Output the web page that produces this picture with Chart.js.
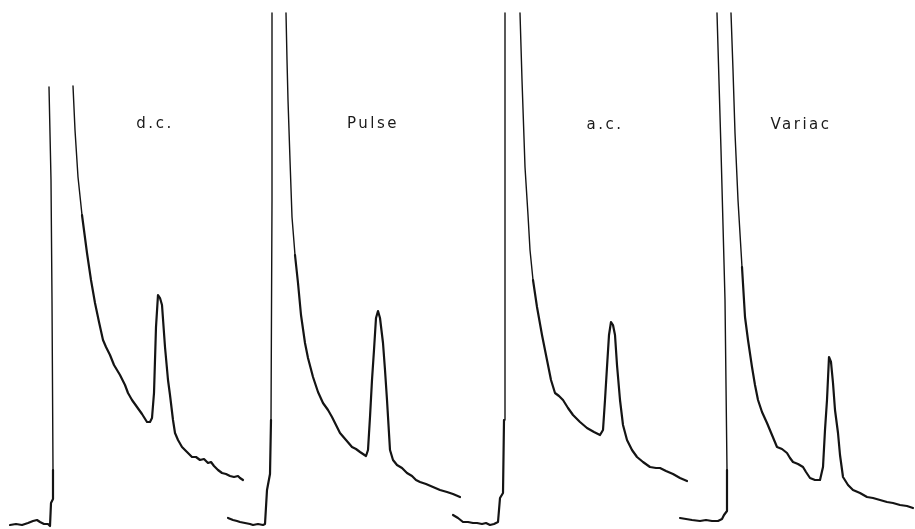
<!DOCTYPE html>
<html>
<head>
<meta charset="utf-8">
<script src="https://cdn.jsdelivr.net/npm/chart.js@4/dist/chart.umd.min.js"></script>
<style>
  html, body { margin: 0; padding: 0; background: #fff; }
  #wrap { width: 915px; height: 529px; position: relative; }
</style>
</head>
<body>
<div id="wrap"><canvas id="chart"></canvas></div>
<script>
// recorder traces, time in chart-paper units, signal = pen deflection
// null = pen off scale (peak cut at the top)
var dcTime = [10, 16, 22, 28, 33, 37, 40, 44, 48, 50, 51, 53, 53, 52, 51, 49, 61,
	73, 75, 78, 82, 87, 91, 95, 99, 103, 106, 110, 114, 120, 125, 128, 132, 137, 142, 147, 150,
	152, 154, 156, 158, 160, 162, 165, 168, 170, 173, 175, 178, 182, 187, 192, 196, 200, 204,
	208, 211, 214, 218, 222, 226, 230, 234, 238, 240, 243];
var dcSignal = [4, 5, 4, 6, 8, 9, 7, 5, 5, 3, 26, 30, 59, 229, 349, 442, null,
	443, 399, 352, 314, 276, 249, 226, 207, 189, 182, 174, 164, 154, 144, 136, 129, 122, 115, 107, 107,
	111, 136, 202, 234, 231, 224, 182, 149, 134, 109, 96, 89, 82, 77, 72, 72, 69, 70,
	66, 67, 63, 59, 56, 55, 53, 52, 53, 51, 49];

var pulseTime = [228, 233, 237, 240, 245, 250, 253, 258, 263, 265, 267, 270, 271, 272, 272, 279,
	286, 287, 288, 290, 292, 295, 298, 301, 305, 308, 313, 318, 323, 328, 332, 336, 340, 346, 352,
	356, 360, 366, 368, 370, 372, 374, 376, 378, 380, 383, 385, 387, 390, 393, 397, 402, 407, 412,
	416, 420, 426, 433, 440, 447, 453, 460];
var pulseSignal = [11, 9, 8, 7, 6, 5, 4, 5, 4, 5, 39, 55, 109, 329, 516, null,
	516, 469, 429, 369, 312, 274, 246, 214, 186, 171, 152, 137, 126, 119, 112, 104, 96, 89, 82,
	80, 77, 73, 79, 112, 149, 179, 211, 218, 211, 186, 159, 129, 79, 69, 64, 61, 56, 53,
	49, 47, 45, 42, 39, 37, 35, 32];

var acTime = [453, 458, 463, 468, 473, 477, 482, 486, 490, 494, 498, 500, 503, 504, 505, 505, 512,
	520, 522, 525, 528, 530, 533, 537, 542, 547, 551, 555, 559, 563, 568, 573, 580, 587, 594, 600,
	603, 605, 607, 609, 611, 613, 615, 617, 620, 623, 627, 632, 637, 643, 650, 656, 660, 666,
	673, 680, 687];
var acSignal = [14, 11, 7, 7, 6, 6, 5, 6, 4, 5, 7, 31, 36, 109, 329, 516, null,
	516, 449, 362, 314, 279, 249, 222, 194, 169, 149, 136, 133, 129, 121, 114, 107, 101, 97, 94,
	99, 129, 162, 194, 207, 204, 194, 164, 129, 104, 89, 79, 72, 67, 62, 61, 61, 58,
	55, 51, 48];

var variacTime = [680, 686, 692, 700, 706, 712, 718, 722, 724, 727, 727, 725, 721, 717, 724,
	731, 733, 735, 738, 742, 745, 748, 752, 755, 758, 762, 767, 772, 777, 782, 787, 790, 793,
	798, 803, 806, 810, 815, 820, 823, 825, 827, 829, 831, 833, 835, 838, 840, 843, 848, 853,
	860, 867, 873, 880, 887, 893, 900, 907, 913];
var variacSignal = [11, 10, 9, 8, 9, 8, 8, 10, 14, 18, 59, 229, 379, 516, null,
	516, 459, 396, 329, 262, 212, 189, 162, 144, 129, 117, 106, 94, 82, 80, 76, 71, 67,
	65, 62, 57, 51, 49, 49, 62, 99, 129, 172, 167, 146, 119, 96, 74, 52, 44, 39,
	36, 32, 31, 29, 27, 26, 24, 23, 21];

var labelText = ["d.c.", "Pulse", "a.c.", "Variac"];
var labelTime = [155, 373, 605, 801];
var labelSignal = [405, 405, 404, 404];

function toPoints( xs, ys ) {
	var pts = [];
	for ( var i = 0; i < xs.length; i++ ) {
		pts.push( {x: xs[i], y: ys[i]} );
	}
	return pts;
}

function trace( name, xs, ys ) {
	return {
		label: name,
		data: toPoints( xs, ys ),
		borderColor: "#141414",
		borderWidth: 2.2,
		pointRadius: 0,
		tension: 0,
		spanGaps: false,
		borderJoinStyle: "round",
		borderCapStyle: "round",
		segment: {
			// fast pen strokes (main peak) come out thinner on the paper
			borderWidth: function( ctx ) {
				var dx = Math.abs( ctx.p1.x - ctx.p0.x );
				var dy = Math.abs( ctx.p1.y - ctx.p0.y );
				var top = Math.min( ctx.p0.y, ctx.p1.y );
				if ( dy > 8 * dx && ( top < 250 || dy > 150 ) ) return 1.4;
				if ( top < 200 ) return 1.6;
				return 2.2;
			}
		}
	};
}

var traceLabels = {
	id: "traceLabels",
	afterDatasetsDraw: function( chart ) {
		var c = chart.ctx;
		var xs = chart.scales.x, ys = chart.scales.y;
		c.save();
		c.font = "15px 'DejaVu Sans'";
		c.fillStyle = "#1a1a1a";
		c.textAlign = "center";
		c.textBaseline = "middle";
		c.letterSpacing = "2.5px";
		for ( var i = 0; i < labelText.length; i++ ) {
			c.fillText( labelText[i], xs.getPixelForValue( labelTime[i] ), ys.getPixelForValue( labelSignal[i] ) );
		}
		c.restore();
	}
};

new Chart( document.getElementById( "chart" ), {
	type: "line",
	data: {
		datasets: [
			trace( "d.c.", dcTime, dcSignal ),
			trace( "Pulse", pulseTime, pulseSignal ),
			trace( "a.c.", acTime, acSignal ),
			trace( "Variac", variacTime, variacSignal )
		]
	},
	options: {
		responsive: true,
		maintainAspectRatio: false,
		animation: false,
		layout: {padding: 0},
		plugins: {
			legend: {display: false},
			tooltip: {enabled: false}
		},
		scales: {
			x: {type: "linear", min: 0, max: 915, display: false},
			y: {type: "linear", min: 0, max: 529, display: false}
		}
	},
	plugins: [traceLabels]
} );
</script>
</body>
</html>
